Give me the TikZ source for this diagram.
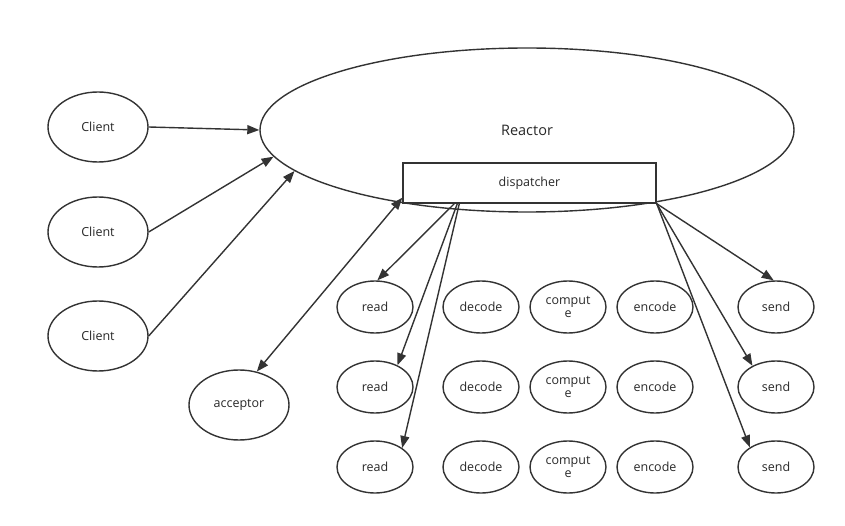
\documentclass[tikz,border=0pt]{standalone}
\usepackage{fontspec}
\setmainfont{Open Sans}
\usetikzlibrary{arrows.meta,calc,shapes.geometric}
\definecolor{LineClr}{RGB}{51,51,51}
\definecolor{TextClr}{RGB}{40,40,40}

\begin{document}
\begin{tikzpicture}[x=1pt,y=-1pt,
  every node/.style={text=TextClr,font=\fontsize{12.5}{14}\selectfont},
  big/.style={ellipse,draw=LineClr,line width=1.4pt,inner sep=0pt,minimum width=100pt,minimum height=70pt},
  small/.style={ellipse,draw=LineClr,line width=1.4pt,inner sep=0pt,minimum width=76pt,minimum height=52pt,align=center},
  link/.style={draw=LineClr,line width=1.4pt,-{Triangle[length=12pt,width=9pt]}},
  both/.style={link,{Triangle[length=12pt,width=9pt]}-{Triangle[length=12pt,width=9pt]}}]
\useasboundingbox (0,0) rectangle (845,526);

% reactor and dispatcher
\node[ellipse,draw=LineClr,line width=1.4pt,inner sep=0pt,minimum width=534pt,minimum height=164pt,
  font=\fontsize{14.5}{16}\selectfont] (reactor) at (527,130) {Reactor};
\node[draw=LineClr,line width=1.4pt,fill=white,minimum width=253pt,minimum height=40pt,inner sep=0pt] (disp) at (529.5,183) {dispatcher};

% clients and acceptor
\node[big] (c1) at (98,127) {Client};
\node[big] (c2) at (98,232) {Client};
\node[big] (c3) at (98,336) {Client};
\node[big] (acc) at (239,405) {acceptor};

% handler rows
\foreach \i/\y in {1/307,2/387,3/467}{
  \node[small] (read\i) at (375,\y) {read};
  \node[small] (dec\i) at (481,\y) {decode};
  \node[small,font=\fontsize{12.5}{13.5}\selectfont] (comp\i) at (568,\y) {comput\\e};
  \node[small] (enc\i) at (655,\y) {encode};
  \node[small] (send\i) at (776,\y) {send};
}

% start points on the dispatcher
\coordinate (d1) at ($(disp.south west)+(52,0)$);
\coordinate (d2) at ($(disp.south west)+(55,0)$);
\coordinate (d3) at ($(disp.south west)+(57,0)$);

\draw[link] (c1.east) -- (reactor.west);
\draw[link] (c2.east) -- (reactor.186);
\draw[link] (c3.east) -- (reactor.190);
\draw[both] (acc.62) -- ($(disp.south west)+(0,-6)$);

\draw[link] (d1) -- (read1.85);
\draw[link] (d2) -- (read2.44);
\draw[link] (d3) -- (read3.35);

\draw[link] (disp.south east) -- (send1.95);
\draw[link] (disp.south east) -- (send2.138);
\draw[link] (disp.south east) -- (send3.143);

\end{tikzpicture}
\end{document}
